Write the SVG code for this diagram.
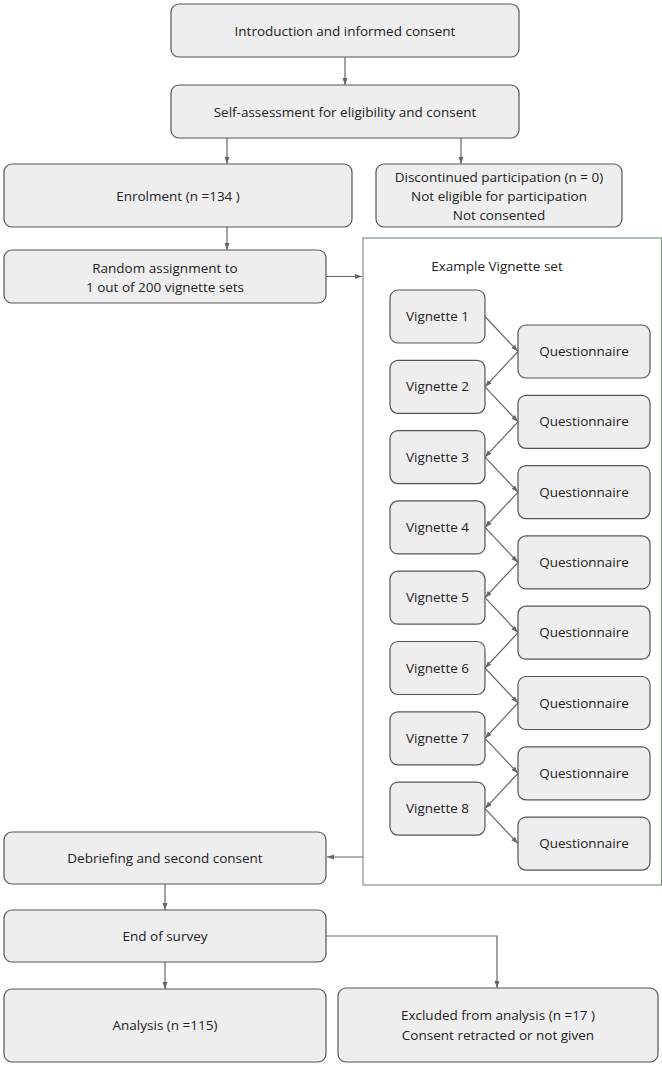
<svg xmlns="http://www.w3.org/2000/svg" width="662" height="1066" viewBox="0 0 662 1066">
<defs>
<marker id="ah" markerWidth="8" markerHeight="8" refX="7" refY="4" orient="auto" markerUnits="userSpaceOnUse">
<path d="M0,1.5 L7,4 L0,6.5 Z" fill="#666"/>
</marker>
<style>
.b{fill:#eeeeee;stroke:#555;stroke-width:1.2}
.t{font-family:"Open Sans","Liberation Sans",sans-serif;font-size:13.5px;fill:#222;text-anchor:middle}
.c{fill:none;stroke:#666;stroke-width:1.2;marker-end:url(#ah)}
</style>
</defs>
<rect width="662" height="1066" fill="#fff"/>
<g id="frame">
<rect x="363" y="238" width="298.5" height="647" fill="#fff" stroke="#7f9580" stroke-width="1.2"/>
<text class="t" x="497" y="271">Example Vignette set</text>
</g>
<g id="intro"><rect class="b" x="171" y="4" width="348" height="53" rx="8"/><text class="t" x="345" y="36">Introduction and informed consent</text></g>
<g id="self"><rect class="b" x="171" y="85" width="348" height="53" rx="8"/><text class="t" x="345" y="117">Self-assessment for eligibility and consent</text></g>
<g id="enrol"><rect class="b" x="4" y="164" width="348" height="63" rx="8"/><text class="t" x="178" y="201">Enrolment (n =134 )</text></g>
<g id="disc"><rect class="b" x="376" y="164" width="246" height="63" rx="8"/><text class="t" x="499" y="182">Discontinued participation (n = 0)</text><text class="t" x="499" y="201">Not eligible for participation</text><text class="t" x="499" y="220">Not consented</text></g>
<g id="random"><rect class="b" x="4" y="250" width="322" height="53" rx="8"/><text class="t" x="165" y="273">Random assignment to</text><text class="t" x="165" y="292">1 out of 200 vignette sets</text></g>
<g id="v1"><rect class="b" x="390" y="290" width="95" height="53" rx="8"/><text class="t" x="437.5" y="321">Vignette 1</text></g>
<g id="v2"><rect class="b" x="390" y="360.3" width="95" height="53" rx="8"/><text class="t" x="437.5" y="391.3">Vignette 2</text></g>
<g id="v3"><rect class="b" x="390" y="430.6" width="95" height="53" rx="8"/><text class="t" x="437.5" y="461.6">Vignette 3</text></g>
<g id="v4"><rect class="b" x="390" y="500.9" width="95" height="53" rx="8"/><text class="t" x="437.5" y="531.9">Vignette 4</text></g>
<g id="v5"><rect class="b" x="390" y="571.2" width="95" height="53" rx="8"/><text class="t" x="437.5" y="602.2">Vignette 5</text></g>
<g id="v6"><rect class="b" x="390" y="641.5" width="95" height="53" rx="8"/><text class="t" x="437.5" y="672.5">Vignette 6</text></g>
<g id="v7"><rect class="b" x="390" y="711.8" width="95" height="53" rx="8"/><text class="t" x="437.5" y="742.8">Vignette 7</text></g>
<g id="v8"><rect class="b" x="390" y="782.1" width="95" height="53" rx="8"/><text class="t" x="437.5" y="813.1">Vignette 8</text></g>
<g id="q1"><rect class="b" x="518" y="325" width="132" height="53" rx="8"/><text class="t" x="584" y="356">Questionnaire</text></g>
<g id="q2"><rect class="b" x="518" y="395.3" width="132" height="53" rx="8"/><text class="t" x="584" y="426.3">Questionnaire</text></g>
<g id="q3"><rect class="b" x="518" y="465.6" width="132" height="53" rx="8"/><text class="t" x="584" y="496.6">Questionnaire</text></g>
<g id="q4"><rect class="b" x="518" y="535.9" width="132" height="53" rx="8"/><text class="t" x="584" y="566.9">Questionnaire</text></g>
<g id="q5"><rect class="b" x="518" y="606.2" width="132" height="53" rx="8"/><text class="t" x="584" y="637.2">Questionnaire</text></g>
<g id="q6"><rect class="b" x="518" y="676.5" width="132" height="53" rx="8"/><text class="t" x="584" y="707.5">Questionnaire</text></g>
<g id="q7"><rect class="b" x="518" y="746.8" width="132" height="53" rx="8"/><text class="t" x="584" y="777.8">Questionnaire</text></g>
<g id="q8"><rect class="b" x="518" y="817.1" width="132" height="53" rx="8"/><text class="t" x="584" y="848.1">Questionnaire</text></g>
<g id="debrief"><rect class="b" x="4" y="832" width="322" height="52" rx="8"/><text class="t" x="165" y="863">Debriefing and second consent</text></g>
<g id="end"><rect class="b" x="4" y="910" width="322" height="52" rx="8"/><text class="t" x="165" y="941">End of survey</text></g>
<g id="analysis"><rect class="b" x="4" y="989" width="322" height="73" rx="8"/><text class="t" x="165" y="1030">Analysis (n =115)</text></g>
<g id="excluded"><rect class="b" x="338" y="988" width="320" height="74" rx="8"/><text class="t" x="498" y="1020">Excluded from analysis (n =17 )</text><text class="t" x="498" y="1040">Consent retracted or not given</text></g>
<g id="connectors">
<path class="c" d="M345,57 V85"/>
<path class="c" d="M227,138 V164"/>
<path class="c" d="M461,138 V164"/>
<path class="c" d="M227,227 V250"/>
<path class="c" d="M326,276.5 H362"/>
<path class="c" d="M363,857 H327"/>
<path class="c" d="M165,884 V910"/>
<path class="c" d="M165,962 V989"/>
<path class="c" d="M326,936 H497 V988"/>
<path class="c" d="M485,316.5 L518,351.5"/>
<path class="c" d="M518,351.5 L485,386.8"/>
<path class="c" d="M485,386.8 L518,421.8"/>
<path class="c" d="M518,421.8 L485,457.1"/>
<path class="c" d="M485,457.1 L518,492.1"/>
<path class="c" d="M518,492.1 L485,527.4"/>
<path class="c" d="M485,527.4 L518,562.4"/>
<path class="c" d="M518,562.4 L485,597.7"/>
<path class="c" d="M485,597.7 L518,632.7"/>
<path class="c" d="M518,632.7 L485,668"/>
<path class="c" d="M485,668 L518,703"/>
<path class="c" d="M518,703 L485,738.3"/>
<path class="c" d="M485,738.3 L518,773.3"/>
<path class="c" d="M518,773.3 L485,808.6"/>
<path class="c" d="M485,808.6 L518,843.6"/>
</g>
</svg>
